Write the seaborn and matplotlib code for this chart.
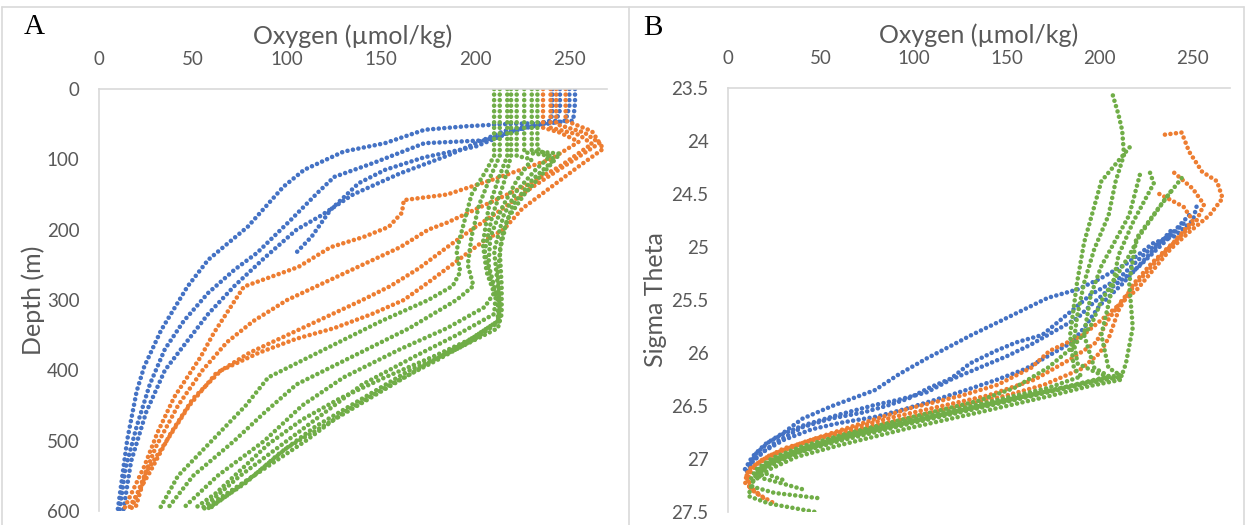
import matplotlib
matplotlib.use("Agg")
import matplotlib.pyplot as plt
import pandas as pd
import seaborn as sns
from matplotlib.lines import Line2D

sns.set_theme(style="white")
plt.rcParams['font.family'] = ['Lato', 'DejaVu Sans']

# ---------------- data: panel A (oxygen vs depth) ----------------
A_BLUE_OX = [
    [253, 253, 252, 240, 215, 195, 173, 152, 130, 109, 98, 79, 66, 58, 47, 33, 24, 20, 15, 10],
    [250, 250, 248, 226, 205, 173, 146, 125, 116, 102, 84, 72, 58, 45, 35, 27, 20, 14, 11],
    [245, 245, 243, 220, 200, 173, 152, 138, 123, 113, 104],
    [241, 241, 240, 215, 185, 160, 135, 118, 105, 88, 72, 58, 45, 35, 25, 17, 13],
]
A_BLUE_DEPTH = [
    [0, 20, 45, 48, 50, 53, 58, 77, 89, 115, 139, 196, 225, 243, 281, 343, 395, 430, 499, 598],
    [0, 25, 45, 55, 73, 77, 105, 125, 148, 186, 233, 257, 290, 330, 370, 420, 480, 540, 598],
    [0, 30, 45, 60, 82, 97, 115, 134, 172, 210, 235],
    [0, 35, 45, 60, 95, 120, 150, 180, 200, 240, 280, 320, 365, 400, 460, 530, 598],
]
A_ORANGE_OX = [
    [236, 236, 245, 255, 240, 209, 185, 162, 161, 154, 141, 123, 106, 77, 61, 54, 40, 31, 24, 13],
    [240, 240, 255, 262, 245, 225, 205, 185, 175, 160, 140, 120, 100, 82, 68, 55, 42, 30, 17],
    [243, 243, 258, 266, 250, 230, 212, 198, 185, 170, 155, 140, 120, 100, 80, 62, 48, 36, 25, 19],
    [248, 248, 262, 268, 255, 240, 225, 215, 205, 190, 175, 162, 145, 125, 105, 85, 65, 50, 38, 27, 15],
]
A_ORANGE_DEPTH = [
    [0, 55, 62, 75, 100, 129, 150, 158, 176, 196, 210, 225, 253, 281, 347, 381, 438, 489, 537, 599],
    [0, 55, 65, 78, 110, 140, 165, 190, 200, 225, 250, 275, 300, 330, 360, 400, 450, 510, 598],
    [0, 50, 62, 77, 105, 140, 175, 200, 225, 255, 280, 300, 325, 350, 375, 405, 450, 500, 545, 599],
    [0, 45, 60, 85, 110, 140, 170, 200, 215, 245, 275, 300, 320, 340, 355, 375, 400, 440, 490, 545, 600],
]
A_GREEN_OX = [
    [210, 210, 206, 198, 194, 190, 192, 188, 175, 150, 120, 90, 78, 60, 42, 32],
    [213, 213, 208, 202, 198, 196, 199, 190, 165, 135, 105, 88, 72, 50, 36],
    [217, 217, 212, 207, 204, 206, 210, 205, 185, 160, 130, 108, 88, 63, 44],
    [219, 219, 215, 209, 205, 208, 212, 212, 198, 178, 152, 128, 108, 90, 74, 62, 50],
    [222, 222, 230, 222, 214, 208, 207, 211, 210, 190, 168, 140, 120, 100, 75, 54],
    [226, 226, 240, 232, 222, 215, 210, 212, 213, 212, 195, 175, 150, 125, 100, 82, 58],
    [230, 230, 245, 236, 226, 217, 213, 214, 214, 212, 190, 165, 140, 115, 95, 78, 57],
    [233, 233, 242, 230, 220, 214, 212, 213, 213, 200, 180, 155, 130, 110, 85, 55],
]
A_GREEN_DEPTH = [
    [0, 95, 115, 150, 190, 230, 260, 280, 300, 330, 370, 410, 450, 500, 550, 598],
    [0, 95, 125, 165, 210, 250, 280, 300, 340, 380, 420, 460, 500, 550, 598],
    [0, 95, 130, 170, 220, 260, 290, 310, 340, 370, 410, 450, 500, 550, 598],
    [0, 95, 135, 180, 230, 270, 300, 330, 355, 380, 410, 440, 470, 505, 545, 575, 598],
    [0, 95, 100, 130, 170, 210, 250, 290, 320, 350, 380, 420, 460, 500, 550, 598],
    [0, 90, 95, 115, 145, 180, 230, 280, 310, 330, 360, 390, 430, 470, 510, 550, 598],
    [0, 88, 92, 120, 150, 185, 230, 280, 320, 340, 370, 400, 440, 480, 520, 560, 598],
    [0, 85, 100, 130, 165, 210, 260, 300, 330, 355, 385, 420, 460, 500, 545, 598],
]

# ---------------- data: panel B (oxygen vs sigma theta) ----------------
B_BLUE_OX = [
    [252, 250, 240, 229, 215, 200, 188, 172, 158, 144, 131, 118, 107, 92, 79, 56, 40, 30, 20, 13, 9],
    [248, 240, 225, 210, 195, 185, 169, 155, 144, 130, 120, 108, 97, 85, 73, 55, 40, 25, 14, 10],
    [245, 235, 220, 205, 195, 188, 175, 163, 150, 135, 120, 107, 92, 79, 60, 41, 30, 22, 15, 11],
    [238, 225, 212, 200, 192, 185, 175, 160, 145, 128, 110, 95, 80, 60, 45, 30, 20, 13, 10],
]
B_BLUE_SIGMA = [
    [24.62, 24.75, 24.9, 24.96, 25.15, 25.3, 25.4, 25.48, 25.6, 25.72, 25.83, 25.95, 26.05, 26.2, 26.35, 26.5, 26.62, 26.75, 26.86, 26.98, 27.1],
    [24.7, 24.85, 25.05, 25.3, 25.45, 25.6, 25.83, 25.9, 25.98, 26.1, 26.24, 26.33, 26.43, 26.5, 26.56, 26.62, 26.7, 26.85, 27.0, 27.12],
    [24.78, 24.95, 25.2, 25.4, 25.55, 25.67, 25.8, 25.92, 26.03, 26.14, 26.25, 26.37, 26.44, 26.49, 26.58, 26.68, 26.76, 26.84, 26.95, 27.08],
    [24.85, 25.1, 25.35, 25.55, 25.75, 25.9, 26.0, 26.15, 26.25, 26.35, 26.45, 26.53, 26.6, 26.66, 26.72, 26.82, 26.92, 27.03, 27.15],
]
B_ORANGE_OX = [
    [235, 244, 248, 255, 263, 266, 259, 248, 238, 229, 220, 210, 200, 191, 173, 163, 145, 126, 98, 69, 41, 22, 11, 9, 15, 24],
    [240, 250, 256, 252, 242, 232, 222, 212, 204, 198, 185, 165, 140, 115, 90, 65, 45, 28, 15, 10, 11, 18],
    [232, 245, 250, 240, 228, 218, 210, 205, 200, 190, 170, 150, 125, 100, 75, 50, 30, 17, 11, 12, 20],
]
B_ORANGE_SIGMA = [
    [23.94, 23.92, 24.1, 24.29, 24.38, 24.54, 24.7, 24.86, 25.02, 25.21, 25.4, 25.55, 25.7, 25.83, 25.98, 26.14, 26.3, 26.4, 26.52, 26.68, 26.84, 26.97, 27.1, 27.22, 27.32, 27.41],
    [24.3, 24.45, 24.6, 24.75, 24.92, 25.1, 25.3, 25.5, 25.7, 25.9, 26.05, 26.25, 26.4, 26.5, 26.6, 26.72, 26.82, 26.93, 27.05, 27.15, 27.25, 27.35],
    [24.5, 24.62, 24.75, 24.95, 25.15, 25.35, 25.6, 25.85, 26.0, 26.15, 26.3, 26.4, 26.5, 26.6, 26.7, 26.8, 26.9, 27.02, 27.15, 27.28, 27.38],
]
B_GREEN_OX = [
    [207, 210, 212, 213, 208.5, 204.7, 197, 191.5, 187.7, 186, 188, 200, 212, 195, 172, 135, 97, 60, 37, 22, 13, 11, 22, 47],
    [227, 229, 218, 210, 206.5, 200.8, 204.6, 212, 190, 170, 135, 97, 60, 38, 23, 14, 13, 25, 49],
    [244, 235, 219.6, 215.8, 217.7, 214, 212, 192, 172, 135, 98, 62, 40, 24, 15, 18, 27, 41],
    [216, 200.8, 191.5, 187.7, 184, 186, 190, 172, 136, 99, 63, 40, 25, 16, 22, 30],
    [221.5, 215.8, 200.8, 195, 191.5, 197, 205, 172, 137, 100, 64, 41, 26, 17, 14],
    [238, 229, 221.5, 215.8, 208, 200.8, 195, 185, 172, 154, 135, 100, 64, 40, 24, 15, 12],
]
B_GREEN_SIGMA = [
    [23.57, 23.75, 23.9, 24.13, 24.38, 24.7, 25.02, 25.34, 25.66, 25.9, 26.1, 26.2, 26.25, 26.31, 26.41, 26.56, 26.71, 26.87, 26.98, 27.1, 27.22, 27.35, 27.42, 27.5],
    [24.3, 24.4, 24.76, 25.08, 25.4, 25.83, 26.14, 26.22, 26.3, 26.38, 26.52, 26.67, 26.83, 26.94, 27.06, 27.17, 27.26, 27.32, 27.37],
    [24.35, 24.55, 24.92, 25.34, 25.76, 26.1, 26.2, 26.28, 26.36, 26.5, 26.65, 26.8, 26.92, 27.03, 27.14, 27.18, 27.22, 27.29],
    [24.06, 24.38, 24.96, 25.34, 25.83, 26.14, 26.22, 26.33, 26.48, 26.63, 26.78, 26.9, 27.0, 27.1, 27.15, 27.2],
    [24.32, 24.7, 25.18, 25.46, 25.83, 26.14, 26.22, 26.36, 26.5, 26.64, 26.79, 26.9, 27.0, 27.1, 27.2],
    [24.48, 24.7, 24.89, 25.08, 25.3, 25.51, 25.75, 25.95, 26.14, 26.33, 26.45, 26.6, 26.76, 26.88, 26.99, 27.1, 27.2],
]

X_TICKS = [0, 50, 100, 150, 200, 250]
A_Y_TICKS = [0, 100, 200, 300, 400, 500, 600]
B_Y_TICKS = [23.5, 24, 24.5, 25, 25.5, 26, 26.5, 27, 27.5]
B_Y_LABELS = ["23.5", "24", "24.5", "25", "25.5", "26", "26.5", "27", "27.5"]

SERIES = ["blue", "orange", "green"]
PALETTE = {"blue": "#4472C4", "orange": "#ED7D31", "green": "#70AD47"}
GRID = "#D9D9D9"
TXT = "#595959"


def build_frame(groups):
    rows = []
    for series, oxs, ys in groups:
        for k, (ox, yy) in enumerate(zip(oxs, ys)):
            for i, (a, b) in enumerate(zip(ox, yy)):
                rows.append({"ox": a, "y": b, "series": series,
                             "profile": f"{series}{k}", "order": i})
    return pd.DataFrame(rows)


dfA = build_frame([("blue", A_BLUE_OX, A_BLUE_DEPTH),
                   ("orange", A_ORANGE_OX, A_ORANGE_DEPTH),
                   ("green", A_GREEN_OX, A_GREEN_DEPTH)])
dfB = build_frame([("blue", B_BLUE_OX, B_BLUE_SIGMA),
                   ("orange", B_ORANGE_OX, B_ORANGE_SIGMA),
                   ("green", B_GREEN_OX, B_GREEN_SIGMA)])

W, H = 1246, 525
fig = plt.figure(figsize=(W / 100, H / 100), dpi=100)
fig.patch.set_facecolor("white")

axA = fig.add_axes([99 / W, 1 - 511 / H, (607 - 99) / W, (511 - 89) / H])
axB = fig.add_axes([728 / W, 1 - 512 / H, (1230 - 728) / W, (512 - 88) / H])

for ax, df in ((axA, dfA), (axB, dfB)):
    sns.lineplot(data=df, x="ox", y="y", hue="series", hue_order=SERIES,
                 units="profile", estimator=None, sort=False,
                 palette=PALETTE, linewidth=3.3, legend=False, ax=ax,
                 linestyle=(0, (0.01, 1.2)), dash_capstyle="round",
                 dash_joinstyle="round")
    ax.set_xlim(0, 270)
    ax.set_xticks(X_TICKS)
    ax.xaxis.tick_top()
    ax.xaxis.set_label_position("top")
    ax.set_xlabel("Oxygen (µmol/kg)", fontsize=18, color=TXT, labelpad=5)
    ax.tick_params(axis="both", length=0, labelsize=13.5, labelcolor=TXT)
    ax.tick_params(axis="x", pad=15)
    ax.tick_params(axis="y", pad=14)
    for s in ("right", "bottom"):
        ax.spines[s].set_visible(False)
    for s in ("top", "left"):
        ax.spines[s].set_color(GRID)
        ax.spines[s].set_linewidth(1.2)
    ax.set_facecolor("white")
    ax.grid(False)

axA.set_ylim(600, 0)
axA.set_yticks(A_Y_TICKS)
axA.set_ylabel("Depth (m)", fontsize=18, color=TXT, labelpad=1)

axB.set_ylim(27.5, 23.5)
axB.set_yticks(B_Y_TICKS)
axB.set_yticklabels(B_Y_LABELS)
axB.set_ylabel("Sigma Theta", fontsize=18, color=TXT, labelpad=3)

# panel letters
fig.text(34 / W, 1 - 27 / H, "A", family="Liberation Serif", fontsize=21,
         ha="center", va="center", color="black")
fig.text(653 / W, 1 - 28 / H, "B", family="Liberation Serif", fontsize=21,
         ha="center", va="center", color="black")

# outer frame and divider
for xs, ys in (([2 / W, 1244 / W], [1 - 7 / H, 1 - 7 / H]),
               ([2 / W, 2 / W], [0, 1 - 7 / H]),
               ([629 / W, 629 / W], [0, 1 - 7 / H]),
               ([1244 / W, 1244 / W], [0, 1 - 7 / H])):
    fig.add_artist(Line2D(xs, ys, transform=fig.transFigure, color=GRID, lw=1.2))

fig.savefig("out.png", dpi=100, facecolor="white")
